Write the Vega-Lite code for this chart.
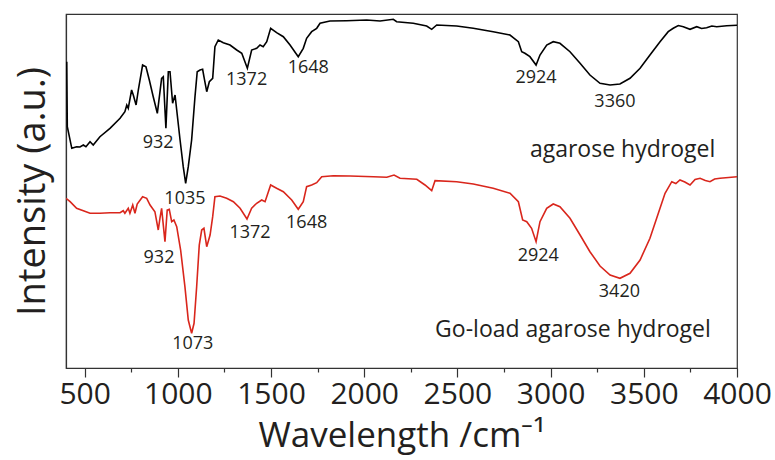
{
  "$schema": "https://vega.github.io/schema/vega-lite/v6.json",
  "autosize": {"type": "none"},
  "padding": {"left": 66, "top": 14, "right": 38, "bottom": 92},
  "width": 671,
  "height": 354,
  "config": {
    "view": {"stroke": "#333333", "strokeWidth": 1.2},
    "font": "Open Sans",
    "axis": {"grid": false, "domainColor": "#333333", "tickColor": "#333333", "labelColor": "#231f20", "titleColor": "#231f20", "labelFont": "Open Sans", "titleFont": "Open Sans", "titleFontWeight": "normal"}
  },
  "datasets": {
    "spectra": [
      {"wn": 404, "i": 306.3, "s": "agarose"},
      {"wn": 407, "i": 241.3, "s": "agarose"},
      {"wn": 431, "i": 219.7, "s": "agarose"},
      {"wn": 457, "i": 221.3, "s": "agarose"},
      {"wn": 475, "i": 221, "s": "agarose"},
      {"wn": 493, "i": 223, "s": "agarose"},
      {"wn": 507, "i": 221.3, "s": "agarose"},
      {"wn": 529, "i": 226.3, "s": "agarose"},
      {"wn": 546, "i": 223, "s": "agarose"},
      {"wn": 582, "i": 231.3, "s": "agarose"},
      {"wn": 636, "i": 239.7, "s": "agarose"},
      {"wn": 690, "i": 249.7, "s": "agarose"},
      {"wn": 716, "i": 256.3, "s": "agarose"},
      {"wn": 726, "i": 263, "s": "agarose"},
      {"wn": 734, "i": 259.7, "s": "agarose"},
      {"wn": 752, "i": 278, "s": "agarose"},
      {"wn": 761, "i": 273, "s": "agarose"},
      {"wn": 776, "i": 263, "s": "agarose"},
      {"wn": 788, "i": 278, "s": "agarose"},
      {"wn": 811, "i": 303, "s": "agarose"},
      {"wn": 829, "i": 301.3, "s": "agarose"},
      {"wn": 847, "i": 288, "s": "agarose"},
      {"wn": 868, "i": 271.3, "s": "agarose"},
      {"wn": 890, "i": 254.7, "s": "agarose"},
      {"wn": 913, "i": 289.7, "s": "agarose"},
      {"wn": 922, "i": 291.3, "s": "agarose"},
      {"wn": 936, "i": 239.7, "s": "agarose"},
      {"wn": 949, "i": 296.3, "s": "agarose"},
      {"wn": 958, "i": 296.3, "s": "agarose"},
      {"wn": 972, "i": 264.7, "s": "agarose"},
      {"wn": 985, "i": 273, "s": "agarose"},
      {"wn": 994, "i": 258, "s": "agarose"},
      {"wn": 1012, "i": 228, "s": "agarose"},
      {"wn": 1029, "i": 201.3, "s": "agarose"},
      {"wn": 1042, "i": 184.7, "s": "agarose"},
      {"wn": 1056, "i": 201.3, "s": "agarose"},
      {"wn": 1074, "i": 228, "s": "agarose"},
      {"wn": 1092, "i": 271.3, "s": "agarose"},
      {"wn": 1104, "i": 296.3, "s": "agarose"},
      {"wn": 1119, "i": 298, "s": "agarose"},
      {"wn": 1133, "i": 298.7, "s": "agarose"},
      {"wn": 1140, "i": 291.3, "s": "agarose"},
      {"wn": 1155, "i": 276.3, "s": "agarose"},
      {"wn": 1169, "i": 286.3, "s": "agarose"},
      {"wn": 1187, "i": 289.7, "s": "agarose"},
      {"wn": 1199, "i": 321.3, "s": "agarose"},
      {"wn": 1217, "i": 328, "s": "agarose"},
      {"wn": 1244, "i": 325.3, "s": "agarose"},
      {"wn": 1280, "i": 323, "s": "agarose"},
      {"wn": 1316, "i": 318, "s": "agarose"},
      {"wn": 1343, "i": 314.7, "s": "agarose"},
      {"wn": 1373, "i": 299.7, "s": "agarose"},
      {"wn": 1396, "i": 318, "s": "agarose"},
      {"wn": 1423, "i": 319.7, "s": "agarose"},
      {"wn": 1441, "i": 323, "s": "agarose"},
      {"wn": 1458, "i": 321.3, "s": "agarose"},
      {"wn": 1477, "i": 326.3, "s": "agarose"},
      {"wn": 1498, "i": 339.7, "s": "agarose"},
      {"wn": 1530, "i": 335.3, "s": "agarose"},
      {"wn": 1566, "i": 331.3, "s": "agarose"},
      {"wn": 1602, "i": 323, "s": "agarose"},
      {"wn": 1646, "i": 311.3, "s": "agarose"},
      {"wn": 1673, "i": 319.7, "s": "agarose"},
      {"wn": 1691, "i": 329.7, "s": "agarose"},
      {"wn": 1718, "i": 336.3, "s": "agarose"},
      {"wn": 1745, "i": 339.7, "s": "agarose"},
      {"wn": 1763, "i": 344.7, "s": "agarose"},
      {"wn": 1816, "i": 347, "s": "agarose"},
      {"wn": 1906, "i": 347.3, "s": "agarose"},
      {"wn": 2013, "i": 348, "s": "agarose"},
      {"wn": 2085, "i": 347, "s": "agarose"},
      {"wn": 2156, "i": 348.7, "s": "agarose"},
      {"wn": 2174, "i": 346.3, "s": "agarose"},
      {"wn": 2263, "i": 344.7, "s": "agarose"},
      {"wn": 2335, "i": 342, "s": "agarose"},
      {"wn": 2362, "i": 338.7, "s": "agarose"},
      {"wn": 2389, "i": 343, "s": "agarose"},
      {"wn": 2496, "i": 342, "s": "agarose"},
      {"wn": 2585, "i": 339.7, "s": "agarose"},
      {"wn": 2692, "i": 336.3, "s": "agarose"},
      {"wn": 2782, "i": 333, "s": "agarose"},
      {"wn": 2827, "i": 326.3, "s": "agarose"},
      {"wn": 2845, "i": 316.3, "s": "agarose"},
      {"wn": 2862, "i": 314.7, "s": "agarose"},
      {"wn": 2889, "i": 311.3, "s": "agarose"},
      {"wn": 2922, "i": 303, "s": "agarose"},
      {"wn": 2943, "i": 313, "s": "agarose"},
      {"wn": 2979, "i": 323, "s": "agarose"},
      {"wn": 3014, "i": 326.3, "s": "agarose"},
      {"wn": 3050, "i": 324.7, "s": "agarose"},
      {"wn": 3104, "i": 316.3, "s": "agarose"},
      {"wn": 3158, "i": 304.7, "s": "agarose"},
      {"wn": 3211, "i": 293, "s": "agarose"},
      {"wn": 3265, "i": 284.7, "s": "agarose"},
      {"wn": 3319, "i": 283, "s": "agarose"},
      {"wn": 3372, "i": 284, "s": "agarose"},
      {"wn": 3426, "i": 289.7, "s": "agarose"},
      {"wn": 3480, "i": 299.7, "s": "agarose"},
      {"wn": 3533, "i": 313, "s": "agarose"},
      {"wn": 3587, "i": 326.3, "s": "agarose"},
      {"wn": 3631, "i": 336.3, "s": "agarose"},
      {"wn": 3658, "i": 339.7, "s": "agarose"},
      {"wn": 3685, "i": 342.5, "s": "agarose"},
      {"wn": 3712, "i": 341.3, "s": "agarose"},
      {"wn": 3748, "i": 338.7, "s": "agarose"},
      {"wn": 3784, "i": 341.3, "s": "agarose"},
      {"wn": 3810, "i": 339.5, "s": "agarose"},
      {"wn": 3837, "i": 340.3, "s": "agarose"},
      {"wn": 3865, "i": 342, "s": "agarose"},
      {"wn": 3891, "i": 341.3, "s": "agarose"},
      {"wn": 3945, "i": 342.3, "s": "agarose"},
      {"wn": 4000, "i": 342.7, "s": "agarose"},

      {"wn": 400, "i": 169.7, "s": "go"},
      {"wn": 422, "i": 166.3, "s": "go"},
      {"wn": 457, "i": 159.7, "s": "go"},
      {"wn": 493, "i": 157.3, "s": "go"},
      {"wn": 529, "i": 154.7, "s": "go"},
      {"wn": 582, "i": 154.7, "s": "go"},
      {"wn": 636, "i": 155.3, "s": "go"},
      {"wn": 690, "i": 155.3, "s": "go"},
      {"wn": 707, "i": 157.3, "s": "go"},
      {"wn": 716, "i": 154.7, "s": "go"},
      {"wn": 734, "i": 159.7, "s": "go"},
      {"wn": 743, "i": 154.7, "s": "go"},
      {"wn": 758, "i": 163, "s": "go"},
      {"wn": 770, "i": 154.7, "s": "go"},
      {"wn": 782, "i": 164, "s": "go"},
      {"wn": 811, "i": 171.3, "s": "go"},
      {"wn": 833, "i": 169.7, "s": "go"},
      {"wn": 851, "i": 163, "s": "go"},
      {"wn": 877, "i": 156.3, "s": "go"},
      {"wn": 895, "i": 138, "s": "go"},
      {"wn": 904, "i": 149.7, "s": "go"},
      {"wn": 913, "i": 159.7, "s": "go"},
      {"wn": 931, "i": 126.3, "s": "go"},
      {"wn": 943, "i": 158, "s": "go"},
      {"wn": 954, "i": 158.7, "s": "go"},
      {"wn": 967, "i": 146.3, "s": "go"},
      {"wn": 979, "i": 148, "s": "go"},
      {"wn": 994, "i": 141.3, "s": "go"},
      {"wn": 1015, "i": 118, "s": "go"},
      {"wn": 1038, "i": 81.3, "s": "go"},
      {"wn": 1056, "i": 48, "s": "go"},
      {"wn": 1074, "i": 34.7, "s": "go"},
      {"wn": 1087, "i": 44.7, "s": "go"},
      {"wn": 1101, "i": 81.3, "s": "go"},
      {"wn": 1115, "i": 123, "s": "go"},
      {"wn": 1128, "i": 138, "s": "go"},
      {"wn": 1140, "i": 139.7, "s": "go"},
      {"wn": 1155, "i": 121.3, "s": "go"},
      {"wn": 1173, "i": 133, "s": "go"},
      {"wn": 1187, "i": 151.3, "s": "go"},
      {"wn": 1199, "i": 171.3, "s": "go"},
      {"wn": 1226, "i": 172, "s": "go"},
      {"wn": 1262, "i": 169.7, "s": "go"},
      {"wn": 1298, "i": 166.3, "s": "go"},
      {"wn": 1334, "i": 159.7, "s": "go"},
      {"wn": 1371, "i": 149, "s": "go"},
      {"wn": 1396, "i": 159.7, "s": "go"},
      {"wn": 1423, "i": 164.7, "s": "go"},
      {"wn": 1450, "i": 168, "s": "go"},
      {"wn": 1468, "i": 166.3, "s": "go"},
      {"wn": 1498, "i": 183, "s": "go"},
      {"wn": 1530, "i": 179.7, "s": "go"},
      {"wn": 1566, "i": 176.3, "s": "go"},
      {"wn": 1611, "i": 168, "s": "go"},
      {"wn": 1646, "i": 158.7, "s": "go"},
      {"wn": 1673, "i": 166.3, "s": "go"},
      {"wn": 1691, "i": 181.3, "s": "go"},
      {"wn": 1718, "i": 183, "s": "go"},
      {"wn": 1745, "i": 185.3, "s": "go"},
      {"wn": 1772, "i": 191.3, "s": "go"},
      {"wn": 1834, "i": 192.3, "s": "go"},
      {"wn": 1924, "i": 192, "s": "go"},
      {"wn": 2049, "i": 191.3, "s": "go"},
      {"wn": 2121, "i": 190.7, "s": "go"},
      {"wn": 2160, "i": 193, "s": "go"},
      {"wn": 2192, "i": 189.7, "s": "go"},
      {"wn": 2282, "i": 188.7, "s": "go"},
      {"wn": 2326, "i": 183, "s": "go"},
      {"wn": 2362, "i": 177.3, "s": "go"},
      {"wn": 2380, "i": 187.3, "s": "go"},
      {"wn": 2496, "i": 186.3, "s": "go"},
      {"wn": 2585, "i": 184, "s": "go"},
      {"wn": 2692, "i": 179.7, "s": "go"},
      {"wn": 2782, "i": 174.7, "s": "go"},
      {"wn": 2827, "i": 166.3, "s": "go"},
      {"wn": 2850, "i": 148, "s": "go"},
      {"wn": 2872, "i": 146.3, "s": "go"},
      {"wn": 2898, "i": 139.7, "s": "go"},
      {"wn": 2922, "i": 126.3, "s": "go"},
      {"wn": 2943, "i": 146.3, "s": "go"},
      {"wn": 2979, "i": 159.7, "s": "go"},
      {"wn": 3014, "i": 164, "s": "go"},
      {"wn": 3050, "i": 161.3, "s": "go"},
      {"wn": 3104, "i": 149.7, "s": "go"},
      {"wn": 3158, "i": 133, "s": "go"},
      {"wn": 3211, "i": 116.3, "s": "go"},
      {"wn": 3265, "i": 102, "s": "go"},
      {"wn": 3319, "i": 93, "s": "go"},
      {"wn": 3372, "i": 89.7, "s": "go"},
      {"wn": 3426, "i": 94.7, "s": "go"},
      {"wn": 3480, "i": 108, "s": "go"},
      {"wn": 3533, "i": 129.7, "s": "go"},
      {"wn": 3578, "i": 154.7, "s": "go"},
      {"wn": 3614, "i": 174.7, "s": "go"},
      {"wn": 3650, "i": 186.3, "s": "go"},
      {"wn": 3672, "i": 184.5, "s": "go"},
      {"wn": 3694, "i": 188, "s": "go"},
      {"wn": 3720, "i": 186, "s": "go"},
      {"wn": 3748, "i": 183, "s": "go"},
      {"wn": 3775, "i": 188.5, "s": "go"},
      {"wn": 3802, "i": 189.7, "s": "go"},
      {"wn": 3830, "i": 187.5, "s": "go"},
      {"wn": 3855, "i": 186.3, "s": "go"},
      {"wn": 3880, "i": 189, "s": "go"},
      {"wn": 3909, "i": 189.7, "s": "go"},
      {"wn": 3955, "i": 190.5, "s": "go"},
      {"wn": 4000, "i": 191.3, "s": "go"}
    ],
    "peaks": [
      {"wn": 894, "i": 225, "t": "932"},
      {"wn": 1038, "i": 169, "t": "1035"},
      {"wn": 1369, "i": 288, "t": "1372"},
      {"wn": 1700, "i": 300, "t": "1648"},
      {"wn": 2922, "i": 290, "t": "2924"},
      {"wn": 3345, "i": 266, "t": "3360"},
      {"wn": 899, "i": 110, "t": "932"},
      {"wn": 1080, "i": 24, "t": "1073"},
      {"wn": 1387, "i": 135, "t": "1372"},
      {"wn": 1691, "i": 145, "t": "1648"},
      {"wn": 2934, "i": 112, "t": "2924"},
      {"wn": 3369, "i": 76, "t": "3420"}
    ],
    "names": [
      {"wn": 3386, "i": 218, "t": "agarose hydrogel"},
      {"wn": 3120, "i": 38, "t": "Go-load agarose hydrogel"}
    ]
  },
  "layer": [
    {
      "data": {"name": "spectra"},
      "mark": {"type": "line", "strokeWidth": 1.6, "clip": true},
      "encoding": {
        "x": {
          "field": "wn", "type": "quantitative",
          "scale": {"domain": [400, 4000], "nice": false, "zero": false},
          "axis": {
            "title": "Wavelength /cm⁻¹",
            "titleFontSize": 35,
            "titlePadding": 9,
            "values": [500, 750, 1000, 1250, 1500, 1750, 2000, 2250, 2500, 2750, 3000, 3250, 3500, 3750, 4000],
            "labelExpr": "datum.value % 500 === 0 ? format(datum.value, 'd') : ''",
            "labelFontSize": 30,
            "labelPadding": 2,
            "labelFlush": false,
            "labelOverlap": false,
            "tickSize": {"condition": {"test": "datum.value % 500 !== 0", "value": 4}, "value": 9},
            "tickWidth": 1.2,
            "domainWidth": 1.2
          }
        },
        "y": {
          "field": "i", "type": "quantitative",
          "scale": {"domain": [0, 354], "nice": false, "zero": false},
          "axis": {
            "title": "Intensity (a.u.)",
            "titleFontSize": 38,
            "titlePadding": 14,
            "labels": false,
            "ticks": false,
            "domainWidth": 1.2
          }
        },
        "color": {
          "field": "s", "type": "nominal",
          "scale": {"domain": ["agarose", "go"], "range": ["#000000", "#d9261c"]},
          "legend": null
        }
      }
    },
    {
      "data": {"name": "peaks"},
      "mark": {"type": "text", "fontSize": 18, "color": "#231f20", "align": "center", "baseline": "middle"},
      "encoding": {
        "x": {"field": "wn", "type": "quantitative"},
        "y": {"field": "i", "type": "quantitative"},
        "text": {"field": "t"}
      }
    },
    {
      "data": {"name": "names"},
      "mark": {"type": "text", "fontSize": 23, "color": "#231f20", "align": "center", "baseline": "middle"},
      "encoding": {
        "x": {"field": "wn", "type": "quantitative"},
        "y": {"field": "i", "type": "quantitative"},
        "text": {"field": "t"}
      }
    }
  ]
}
